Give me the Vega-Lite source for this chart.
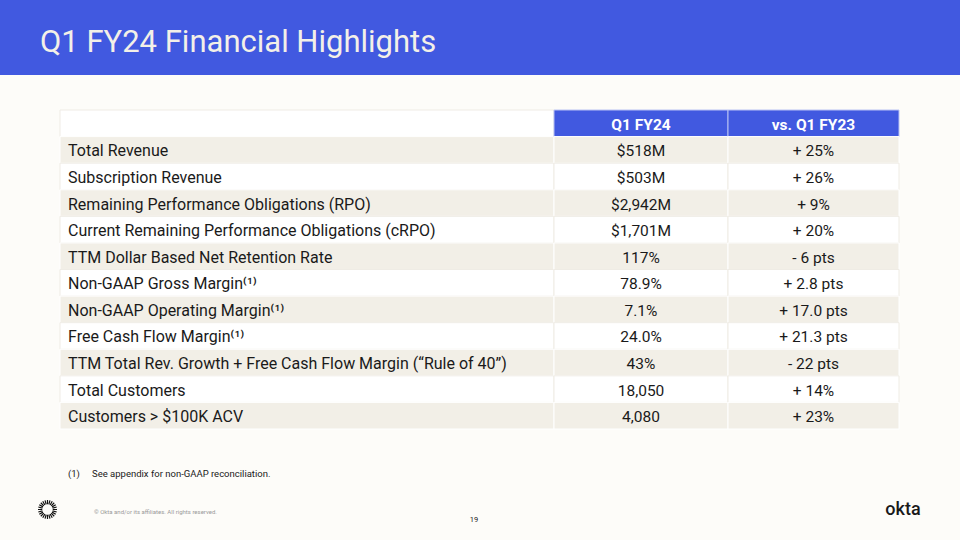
{
  "$schema": "https://vega.github.io/schema/vega-lite/v6.json",
  "width": 960,
  "height": 540,
  "autosize": {"type": "fit", "contains": "padding"},
  "padding": 0,
  "background": "#FDFCF9",
  "config": {"view": {"stroke": null}, "font": "Roboto", "text": {"font": "Roboto"}},
  "datasets": {
    "rows": [
      {"metric": "", "q1": "Q1 FY24", "vs": "vs. Q1 FY23"},
      {"metric": "Total Revenue", "q1": "$518M", "vs": "+ 25%"},
      {"metric": "Subscription Revenue", "q1": "$503M", "vs": "+ 26%"},
      {"metric": "Remaining Performance Obligations (RPO)", "q1": "$2,942M", "vs": "+ 9%"},
      {"metric": "Current Remaining Performance Obligations (cRPO)", "q1": "$1,701M", "vs": "+ 20%"},
      {"metric": "TTM Dollar Based Net Retention Rate", "q1": "117%", "vs": "- 6 pts"},
      {"metric": "Non-GAAP Gross Margin⁽¹⁾", "q1": "78.9%", "vs": "+ 2.8 pts"},
      {"metric": "Non-GAAP Operating Margin⁽¹⁾", "q1": "7.1%", "vs": "+ 17.0 pts"},
      {"metric": "Free Cash Flow Margin⁽¹⁾", "q1": "24.0%", "vs": "+ 21.3 pts"},
      {"metric": "TTM Total Rev. Growth + Free Cash Flow Margin (“Rule of 40”)", "q1": "43%", "vs": "- 22 pts"},
      {"metric": "Total Customers", "q1": "18,050", "vs": "+ 14%"},
      {"metric": "Customers > $100K ACV", "q1": "4,080", "vs": "+ 23%"}
    ],
    "notes": [
      {"id": "title", "text": "Q1 FY24 Financial Highlights"},
      {"id": "fnmark", "text": "(1)"},
      {"id": "fntext", "text": "See appendix for non-GAAP reconciliation."},
      {"id": "copyright", "text": "© Okta and/or its affiliates. All rights reserved."},
      {"id": "page", "text": "19"},
      {"id": "brand", "text": "okta"},
      {"id": "logo", "text": ""}
    ]
  },
  "layer": [
    {
      "data": {"values": [{"band": "header"}]},
      "mark": {"type": "rect", "fill": "#4159E0"},
      "encoding": {
        "x": {"datum": "full", "type": "nominal", "axis": null, "scale": {"type": "band", "domain": ["full"], "range": [0, 960], "paddingInner": 0, "paddingOuter": 0}},
        "y": {"field": "band", "type": "nominal", "axis": null, "scale": {"type": "band", "domain": ["header"], "range": [0, 75], "paddingInner": 0, "paddingOuter": 0}}
      }
    },
    {
      "data": {"name": "notes"},
      "transform": [{"filter": "datum.id === 'title'"}],
      "mark": {"type": "text", "align": "left", "baseline": "alphabetic", "fontSize": 31, "color": "#F3F0E8"},
      "encoding": {
        "text": {"field": "text"},
        "x": {"field": "id", "type": "nominal", "axis": null, "scale": {"type": "point", "domain": ["title"], "range": [40, 40], "padding": 0}},
        "y": {"field": "id", "type": "nominal", "axis": null, "scale": {"type": "point", "domain": ["title"], "range": [52, 52], "padding": 0}}
      }
    },
    {
      "data": {"name": "rows"},
      "transform": [{"window": [{"op": "row_number", "as": "rn"}]}],
      "encoding": {
        "y": {
          "field": "metric", "type": "nominal", "axis": null, "sort": null,
          "scale": {
            "type": "band",
            "domain": ["", "Total Revenue", "Subscription Revenue", "Remaining Performance Obligations (RPO)", "Current Remaining Performance Obligations (cRPO)", "TTM Dollar Based Net Retention Rate", "Non-GAAP Gross Margin⁽¹⁾", "Non-GAAP Operating Margin⁽¹⁾", "Free Cash Flow Margin⁽¹⁾", "TTM Total Rev. Growth + Free Cash Flow Margin (“Rule of 40”)", "Total Customers", "Customers > $100K ACV"],
            "range": [110, 429], "paddingInner": 0, "paddingOuter": 0
          }
        }
      },
      "layer": [
        {
          "encoding": {"x": {"datum": "Metric", "type": "nominal", "axis": null, "scale": {"type": "band", "domain": ["Metric"], "range": [60, 554], "paddingInner": 0, "paddingOuter": 0}}},
          "layer": [
            {
              "mark": {"type": "rect", "strokeWidth": 1},
              "encoding": {
                "fill": {"condition": {"test": "datum.rn > 1 && datum.rn % 2 === 0", "value": "#F2EFE7"}, "value": "#FFFFFF"},
                "stroke": {"condition": {"test": "datum.rn > 1 && datum.rn % 2 === 0", "value": "#FFFFFF"}, "value": "#EFECE5"}
              }
            },
            {
              "transform": [{"filter": "datum.rn > 1"}],
              "mark": {"type": "text", "align": "left", "dx": 8, "dy": 1.5, "fontSize": 16, "color": "#1A1A1A"},
              "encoding": {
                "text": {"field": "metric"},
                "x": {"datum": "Metric", "type": "nominal", "bandPosition": 0}
              }
            }
          ]
        },
        {
          "encoding": {"x": {"datum": "Q1 FY24", "type": "nominal", "axis": null, "scale": {"type": "band", "domain": ["Q1 FY24"], "range": [554, 728], "paddingInner": 0, "paddingOuter": 0}}},
          "layer": [
            {
              "mark": {"type": "rect", "strokeWidth": 1},
              "encoding": {
                "fill": {"condition": [{"test": "datum.rn === 1", "value": "#4159E0"}, {"test": "datum.rn % 2 === 0", "value": "#F2EFE7"}], "value": "#FFFFFF"},
                "stroke": {"condition": [{"test": "datum.rn === 1", "value": "#B9C2F3"}, {"test": "datum.rn % 2 === 0", "value": "#FFFFFF"}], "value": "#EFECE5"}
              }
            },
            {
              "transform": [{"filter": "datum.rn === 1"}],
              "mark": {"type": "text", "align": "center", "dy": 1.5, "fontSize": 15.5, "fontWeight": "bold", "color": "#FFFFFF"},
              "encoding": {"text": {"field": "q1"}}
            },
            {
              "transform": [{"filter": "datum.rn > 1"}],
              "mark": {"type": "text", "align": "center", "dy": 1.5, "fontSize": 15.5, "color": "#1A1A1A"},
              "encoding": {"text": {"field": "q1"}}
            }
          ]
        },
        {
          "encoding": {"x": {"datum": "vs. Q1 FY23", "type": "nominal", "axis": null, "scale": {"type": "band", "domain": ["vs. Q1 FY23"], "range": [728, 899], "paddingInner": 0, "paddingOuter": 0}}},
          "layer": [
            {
              "mark": {"type": "rect", "strokeWidth": 1},
              "encoding": {
                "fill": {"condition": [{"test": "datum.rn === 1", "value": "#4159E0"}, {"test": "datum.rn % 2 === 0", "value": "#F2EFE7"}], "value": "#FFFFFF"},
                "stroke": {"condition": [{"test": "datum.rn === 1", "value": "#B9C2F3"}, {"test": "datum.rn % 2 === 0", "value": "#FFFFFF"}], "value": "#EFECE5"}
              }
            },
            {
              "transform": [{"filter": "datum.rn === 1"}],
              "mark": {"type": "text", "align": "center", "dy": 1.5, "fontSize": 15.5, "fontWeight": "bold", "color": "#FFFFFF"},
              "encoding": {"text": {"field": "vs"}}
            },
            {
              "transform": [{"filter": "datum.rn > 1"}],
              "mark": {"type": "text", "align": "center", "dy": 1.5, "fontSize": 15.5, "color": "#1A1A1A"},
              "encoding": {"text": {"field": "vs"}}
            }
          ]
        }
      ],
      "resolve": {"scale": {"x": "independent"}}
    },
    {
      "data": {"name": "notes"},
      "transform": [{"filter": "datum.id === 'fnmark'"}],
      "mark": {"type": "text", "align": "left", "fontSize": 9.5, "color": "#1A1A1A"},
      "encoding": {
        "text": {"field": "text"},
        "x": {"field": "id", "type": "nominal", "axis": null, "scale": {"type": "point", "domain": ["fnmark"], "range": [68, 68], "padding": 0}},
        "y": {"field": "id", "type": "nominal", "axis": null, "scale": {"type": "point", "domain": ["fnmark"], "range": [474, 474], "padding": 0}}
      }
    },
    {
      "data": {"name": "notes"},
      "transform": [{"filter": "datum.id === 'fntext'"}],
      "mark": {"type": "text", "align": "left", "fontSize": 9.5, "color": "#1A1A1A"},
      "encoding": {
        "text": {"field": "text"},
        "x": {"field": "id", "type": "nominal", "axis": null, "scale": {"type": "point", "domain": ["fntext"], "range": [92, 92], "padding": 0}},
        "y": {"field": "id", "type": "nominal", "axis": null, "scale": {"type": "point", "domain": ["fntext"], "range": [474, 474], "padding": 0}}
      }
    },
    {
      "data": {"name": "notes"},
      "transform": [{"filter": "datum.id === 'copyright'"}],
      "mark": {"type": "text", "align": "left", "fontSize": 6, "color": "#9A9A9A"},
      "encoding": {
        "text": {"field": "text"},
        "x": {"field": "id", "type": "nominal", "axis": null, "scale": {"type": "point", "domain": ["copyright"], "range": [94, 94], "padding": 0}},
        "y": {"field": "id", "type": "nominal", "axis": null, "scale": {"type": "point", "domain": ["copyright"], "range": [512, 512], "padding": 0}}
      }
    },
    {
      "data": {"name": "notes"},
      "transform": [{"filter": "datum.id === 'page'"}],
      "mark": {"type": "text", "align": "center", "fontSize": 7.5, "color": "#1A1A1A"},
      "encoding": {
        "text": {"field": "text"},
        "x": {"field": "id", "type": "nominal", "axis": null, "scale": {"type": "point", "domain": ["page"], "range": [474, 474], "padding": 0}},
        "y": {"field": "id", "type": "nominal", "axis": null, "scale": {"type": "point", "domain": ["page"], "range": [520, 520], "padding": 0}}
      }
    },
    {
      "data": {"name": "notes"},
      "transform": [{"filter": "datum.id === 'brand'"}],
      "mark": {"type": "text", "align": "center", "fontSize": 18, "fontWeight": 500, "color": "#191919"},
      "encoding": {
        "text": {"field": "text"},
        "x": {"field": "id", "type": "nominal", "axis": null, "scale": {"type": "point", "domain": ["brand"], "range": [903, 903], "padding": 0}},
        "y": {"field": "id", "type": "nominal", "axis": null, "scale": {"type": "point", "domain": ["brand"], "range": [510, 510], "padding": 0}}
      }
    },
    {
      "data": {"name": "notes"},
      "transform": [{"filter": "datum.id === 'logo'"}],
      "mark": {"type": "point", "filled": false, "color": "#111111", "strokeWidth": 1.2, "opacity": 1, "size": 361, "shape": "M1,0L0.55,0M0.966,0.259L0.531,0.142M0.866,0.5L0.476,0.275M0.707,0.707L0.389,0.389M0.5,0.866L0.275,0.476M0.259,0.966L0.142,0.531M0,1L0,0.55M-0.259,0.966L-0.142,0.531M-0.5,0.866L-0.275,0.476M-0.707,0.707L-0.389,0.389M-0.866,0.5L-0.476,0.275M-0.966,0.259L-0.531,0.142M-1,0L-0.55,0M-0.966,-0.259L-0.531,-0.142M-0.866,-0.5L-0.476,-0.275M-0.707,-0.707L-0.389,-0.389M-0.5,-0.866L-0.275,-0.476M-0.259,-0.966L-0.142,-0.531M0,-1L0,-0.55M0.259,-0.966L0.142,-0.531M0.5,-0.866L0.275,-0.476M0.707,-0.707L0.389,-0.389M0.866,-0.5L0.476,-0.275M0.966,-0.259L0.531,-0.142"},
      "encoding": {
        "x": {"field": "id", "type": "nominal", "axis": null, "scale": {"type": "point", "domain": ["logo"], "range": [47.5, 47.5], "padding": 0}},
        "y": {"field": "id", "type": "nominal", "axis": null, "scale": {"type": "point", "domain": ["logo"], "range": [509.5, 509.5], "padding": 0}}
      }
    }
  ],
  "resolve": {"scale": {"x": "independent", "y": "independent"}}
}
